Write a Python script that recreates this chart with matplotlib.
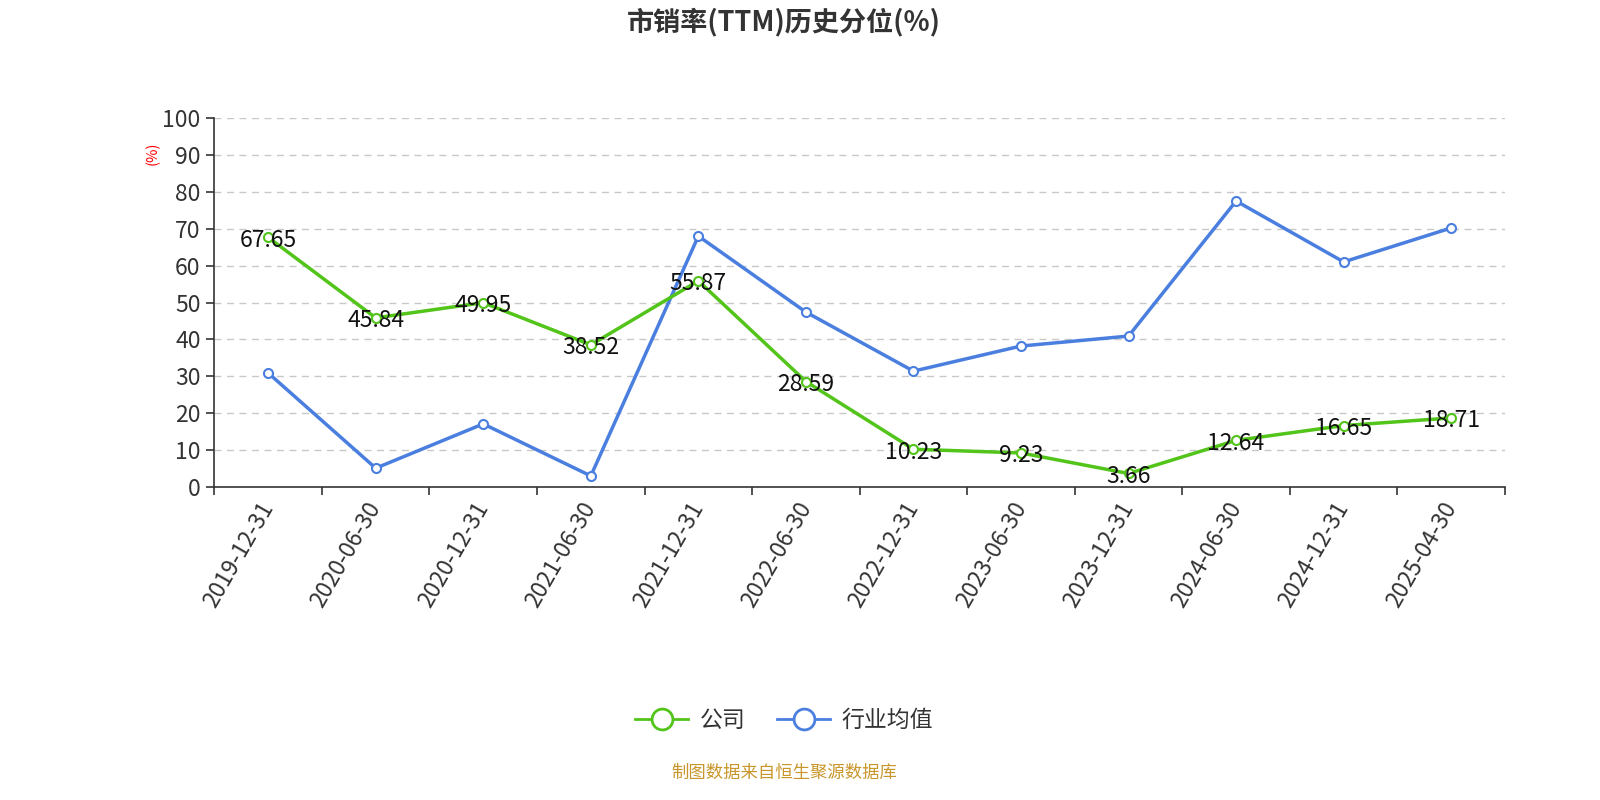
import matplotlib
matplotlib.use("Agg")
import matplotlib.pyplot as plt
from matplotlib.lines import Line2D

plt.rcParams['font.family'] = ['Noto Sans CJK SC', 'DejaVu Sans']

dates = ["2019-12-31", "2020-06-30", "2020-12-31", "2021-06-30", "2021-12-31", "2022-06-30",
         "2022-12-31", "2023-06-30", "2023-12-31", "2024-06-30", "2024-12-31", "2025-04-30"]
company = [67.65, 45.84, 49.95, 38.52, 55.87, 28.59, 10.23, 9.23, 3.66, 12.64, 16.65, 18.71]
industry = [30.9, 5.1, 17.1, 3.0, 68.0, 47.4, 31.4, 38.2, 40.9, 77.5, 61.0, 70.2]
yticks = [0, 10, 20, 30, 40, 50, 60, 70, 80, 90, 100]

green = "#52c41a"
blue = "#4a7fe0"

fig = plt.figure(figsize=(16, 8), dpi=100)
ax = fig.add_axes([0.134, 0.39125, 0.8066, 0.46125])

x = list(range(len(dates)))
ax.plot(x, industry, color=blue, lw=2.5, marker='o', ms=6.5, mfc='white', mec=blue, mew=1.5, zorder=3)
ax.plot(x, company, color=green, lw=2.5, marker='o', ms=6.5, mfc='white', mec=green, mew=1.5, zorder=4)
for xi, v in zip(x, company):
    ax.text(xi, v - 0.8, f"{v:.2f}", ha='center', va='center', fontsize=16.5, color='#111', zorder=5)

ax.set_xlim(-0.5, len(dates) - 0.5)
ax.set_ylim(0, 100)
ax.set_yticks(yticks)
ax.set_yticklabels([str(t) for t in yticks], fontsize=16.5, color='#333')
ax.set_xticks(x)
ax.set_xticklabels(dates, rotation=60, ha='right', va='center', rotation_mode='anchor',
                   fontsize=16.5, color='#333')
ax.tick_params(axis='x', which='major', length=0, pad=12)
ax.set_xticks([i - 0.5 for i in range(len(dates) + 1)], minor=True)
ax.tick_params(axis='x', which='minor', length=6, width=1.2, color='#333', direction='out')
ax.tick_params(axis='y', length=6, width=1.2, color='#333', direction='out', pad=4)

for t in yticks[1:]:
    ax.axhline(t, color='#c8c8c8', lw=1, ls=(0, (5, 4)), zorder=1)

for s in ['top', 'right']:
    ax.spines[s].set_visible(False)
ax.spines['left'].set_color('#333')
ax.spines['bottom'].set_color('#333')
ax.spines['left'].set_linewidth(1.2)
ax.spines['bottom'].set_linewidth(1.2)

ax.text(-0.048, 0.905, "(%)", transform=ax.transAxes, rotation=90, color='red', fontsize=10.5,
        ha='center', va='center')

fig.text(0.49, 0.972, "市销率(TTM)历史分位(%)", ha='center', va='center', fontsize=19.5,
         fontweight='bold', color='#333')

handles = [Line2D([0], [0], color=green, lw=2, marker='o', ms=15, mfc='white', mec=green, mew=2),
           Line2D([0], [0], color=blue, lw=2, marker='o', ms=15, mfc='white', mec=blue, mew=2)]
fig.legend(handles, ["公司", "行业均值"], loc='center', bbox_to_anchor=(0.49, 0.099), ncol=2,
           frameon=False, fontsize=16.5, handlelength=2.3, handletextpad=0.5, columnspacing=1.4,
           labelcolor='#333')

fig.text(0.49, 0.034, "制图数据来自恒生聚源数据库", ha='center', va='center', fontsize=12.5, color='#c8962a')

fig.savefig("out.png", dpi=100)
